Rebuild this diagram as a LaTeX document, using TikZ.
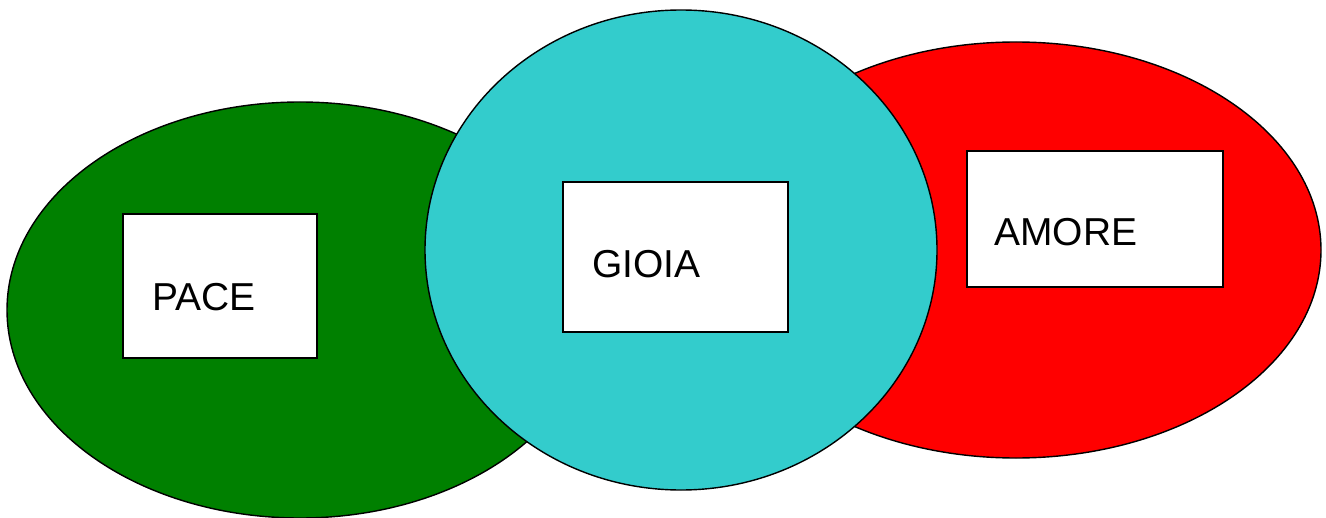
\documentclass[tikz,border=0pt]{standalone}
\usepackage{fontspec}
\setmainfont{Liberation Sans}
\usepackage{tikz}
\usetikzlibrary{positioning}
\usepackage{xcolor}
\definecolor{pacegreen}{RGB}{0,128,0}
\definecolor{gioiacyan}{RGB}{51,204,204}
\definecolor{amorered}{RGB}{255,0,0}

\begin{document}
\begin{tikzpicture}[x=0.025cm,y=-0.025cm,
  blob/.style={draw=black,line width=1pt},
  wbox/.style={fill=white,draw=black,line width=1.4pt},
  word/.style={anchor=base west,inner sep=0pt,font=\fontsize{27.7}{33}\selectfont}]
\useasboundingbox (0,0) rectangle (1326,518);
\draw[blob,fill=pacegreen] (300,310) ellipse [x radius=293,y radius=208];
\draw[blob,fill=amorered] (1016,250) ellipse [x radius=305,y radius=208];
\draw[blob,fill=gioiacyan] (681,250) ellipse [x radius=256,y radius=240];
\draw[wbox] (123,214) rectangle (317,358);
\draw[wbox] (563,182) rectangle (788,332);
\draw[wbox] (967,151) rectangle (1223,287);
\node[word] (pace) at (152,310) {PACE};
\node[word] (gioia) at (592,277) {GIOIA};
\node[word] (amore) at (994,245) {AMORE};
\end{tikzpicture}
\end{document}
